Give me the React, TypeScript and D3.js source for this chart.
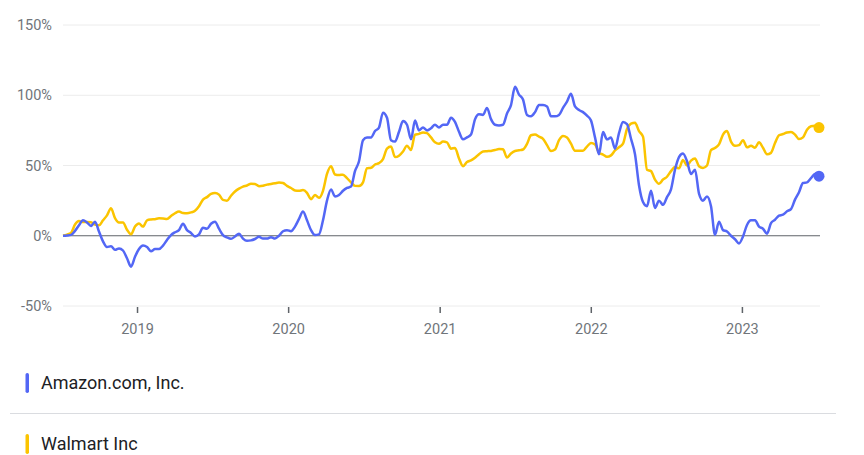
import * as d3 from 'd3';

// Returns since 2018-07-05, in percent, sampled evenly through 2023-07-05
const startDate = new Date(2018, 6, 5);
const endDate = new Date(2023, 6, 5);

const amazon = [
  0, 0.2, 0.6, 3.5, 7.5, 11, 9.5, 7, 10, 3,
  -4, -8, -7.5, -10, -9, -10.5, -16, -22, -15, -9.5,
  -7, -8, -11, -9.5, -9.5, -7, -3, 0.5, 2.5, 4,
  8.6, 4, 2, -0.5, 1, 5.7, 5, 8.5, 10, 5,
  0.5, -1.2, -2.2, -0.5, 1.5, -2, -3.6, -3.3, -2.3, -0.8,
  -2, -2, -1, -2, 0, 3.2, 4, 3.2, 6.5, 12,
  17.2, 11, 4, 0.5, 1, 11, 25, 33, 28, 29,
  32, 34, 35, 46, 53, 68, 70, 70, 74.5, 77,
  87.6, 84, 68, 67, 74, 81.6, 79, 68.6, 82, 75,
  77, 75, 76.5, 79, 77, 79, 79, 84, 81, 74,
  68.6, 70, 72, 82.8, 86.5, 86, 91, 83, 79, 78.5,
  79, 87, 93, 106, 100.5, 97, 86, 85, 88, 93,
  93, 92, 85, 85, 86, 91, 95.5, 101, 92, 89.5,
  88, 85.5, 82, 70, 58, 73.8, 68.6, 70, 62, 73,
  81, 79.5, 69, 58, 36, 24, 21, 32, 19.8, 25,
  22, 27.5, 33, 47, 56, 58.5, 53, 44, 47, 30,
  25, 28, 21, 0.7, 10, 4, 3, 0, -2.5, -5.5,
  -0.5, 7.7, 11, 11, 6.5, 5, 1.5, 9, 11.4, 14.3,
  15, 17.4, 19, 25.7, 31, 37.6, 38, 41, 44, 42.4,
];

const walmart = [
  0, 0.8, 2, 8, 10.5, 9.7, 9.7, 9.6, 7.9, 7.5,
  11, 14.5, 19.5, 12.6, 9.5, 9.5, 4.3, 1, 6.5, 8.7,
  6.5, 11, 11.6, 11.8, 12.4, 12.3, 12, 14, 16, 17.2,
  16.2, 16, 16.6, 17.8, 21, 25.7, 27.5, 29.8, 30.5, 29.3,
  25.5, 25, 28.5, 31.5, 33.5, 35, 35.8, 37, 36.8, 35.3,
  35.6, 36.4, 36.8, 37.3, 37.9, 37.5, 35.5, 34, 32.2, 32,
  32.5, 30.5, 26, 29, 27, 32, 44, 49.5, 43.6, 43.2,
  43.5, 41, 38, 35.5, 35.4, 38, 48, 48.4, 50.7, 51.7,
  54.5, 62, 63.5, 56, 57, 60, 64, 61, 72, 72.5,
  73.5, 73, 70, 66.5, 65.5, 67, 66.5, 62, 62.5, 55,
  49.5, 52.5, 53.7, 55.5, 58, 60, 60.2, 60.4, 61, 61.8,
  61.5, 55.7, 58.5, 60.3, 60.8, 61.4, 65.4, 71.5, 72, 70.5,
  69, 64.5, 60.3, 61.4, 68, 71, 70, 65.5, 60.5, 60.5,
  60.5, 63.5, 66, 65, 59, 57.8, 56.2, 57.2, 60.7, 63,
  65.5, 76, 79.8, 80.5, 74.5, 70.5, 47, 46, 40, 37,
  40, 42, 46, 49, 48, 54, 50, 53.5, 55, 49.5,
  48.3, 50, 61, 62.5, 65, 72, 74.5, 67, 64, 64.5,
  67.9, 63, 64, 62.6, 66.5, 62.6, 58, 59, 66, 71.5,
  72.4, 73.5, 73.8, 72, 68.8, 70, 75.5, 78, 78.3, 77,
];

const yTicks = [-50, 0, 50, 100, 150];
const xTickYears = [2019, 2020, 2021, 2022, 2023];

const seriesNames = ['Amazon.com, Inc.', 'Walmart Inc'];
const seriesColors = ['#5367f5', '#fbc400'];

const W = 864;
const H = 455;

export default function App() {
  const n = amazon.length;
  const dates = d3.range(n).map(
    (i) => new Date(+startDate + ((+endDate - +startDate) * i) / (n - 1))
  );

  const x = d3.scaleTime().domain([startDate, endDate]).range([63, 819]);
  const y = d3.scaleLinear().domain([-50, 150]).range([306, 25]);

  const line = d3
    .line<number>()
    .x((_, i) => x(dates[i]))
    .y((d) => y(d))
    .curve(d3.curveMonotoneX);

  const series = [walmart, amazon];
  const colors = [seriesColors[1], seriesColors[0]];
  const axisFont = 'Roboto, Arial, sans-serif';

  return (
    <svg
      width={W}
      height={H}
      style={{ position: 'absolute', left: 0, top: 0, background: '#fff' }}
    >
      {/* grid */}
      {yTicks.map((t) => (
        <g key={t}>
          <line
            x1={63}
            x2={820}
            y1={y(t)}
            y2={y(t)}
            stroke={t === 0 ? '#5f6368' : '#ececec'}
            strokeWidth={t === 0 ? 1.2 : 1}
          />
          <text
            x={52}
            y={y(t)}
            dy="0.35em"
            textAnchor="end"
            fontFamily={axisFont}
            fontSize={14.5}
            fill="#70757a"
          >
            {`${t}%`}
          </text>
        </g>
      ))}

      {/* x ticks */}
      {xTickYears.map((yr) => {
        const xp = x(new Date(yr, 0, 1));
        return (
          <g key={yr}>
            <line x1={xp} x2={xp} y1={307} y2={313} stroke="#5f6368" strokeWidth={1.5} />
            <text
              x={xp}
              y={334}
              textAnchor="middle"
              fontFamily={axisFont}
              fontSize={14.5}
              fill="#70757a"
            >
              {yr}
            </text>
          </g>
        );
      })}

      {/* series */}
      {series.map((s, k) => (
        <g key={k}>
          <path
            d={line(s) ?? ''}
            fill="none"
            stroke={colors[k]}
            strokeWidth={2.5}
            strokeLinejoin="round"
          />
          <circle cx={x(dates[n - 1])} cy={y(s[n - 1])} r={5.5} fill={colors[k]} />
        </g>
      ))}

      {/* legend */}
      {seriesNames.map((name, k) => {
        const top = 373 + k * 61;
        return (
          <g key={name}>
            <rect x={25.5} y={top} width={3.5} height={20} rx={1.7} fill={seriesColors[k]} />
            <text
              x={41}
              y={top + 16}
              fontFamily={axisFont}
              fontSize={18}
              fill="#202124"
            >
              {name}
            </text>
          </g>
        );
      })}
      <line x1={10} x2={836} y1={413.5} y2={413.5} stroke="#dadce0" strokeWidth={1} />
    </svg>
  );
}
